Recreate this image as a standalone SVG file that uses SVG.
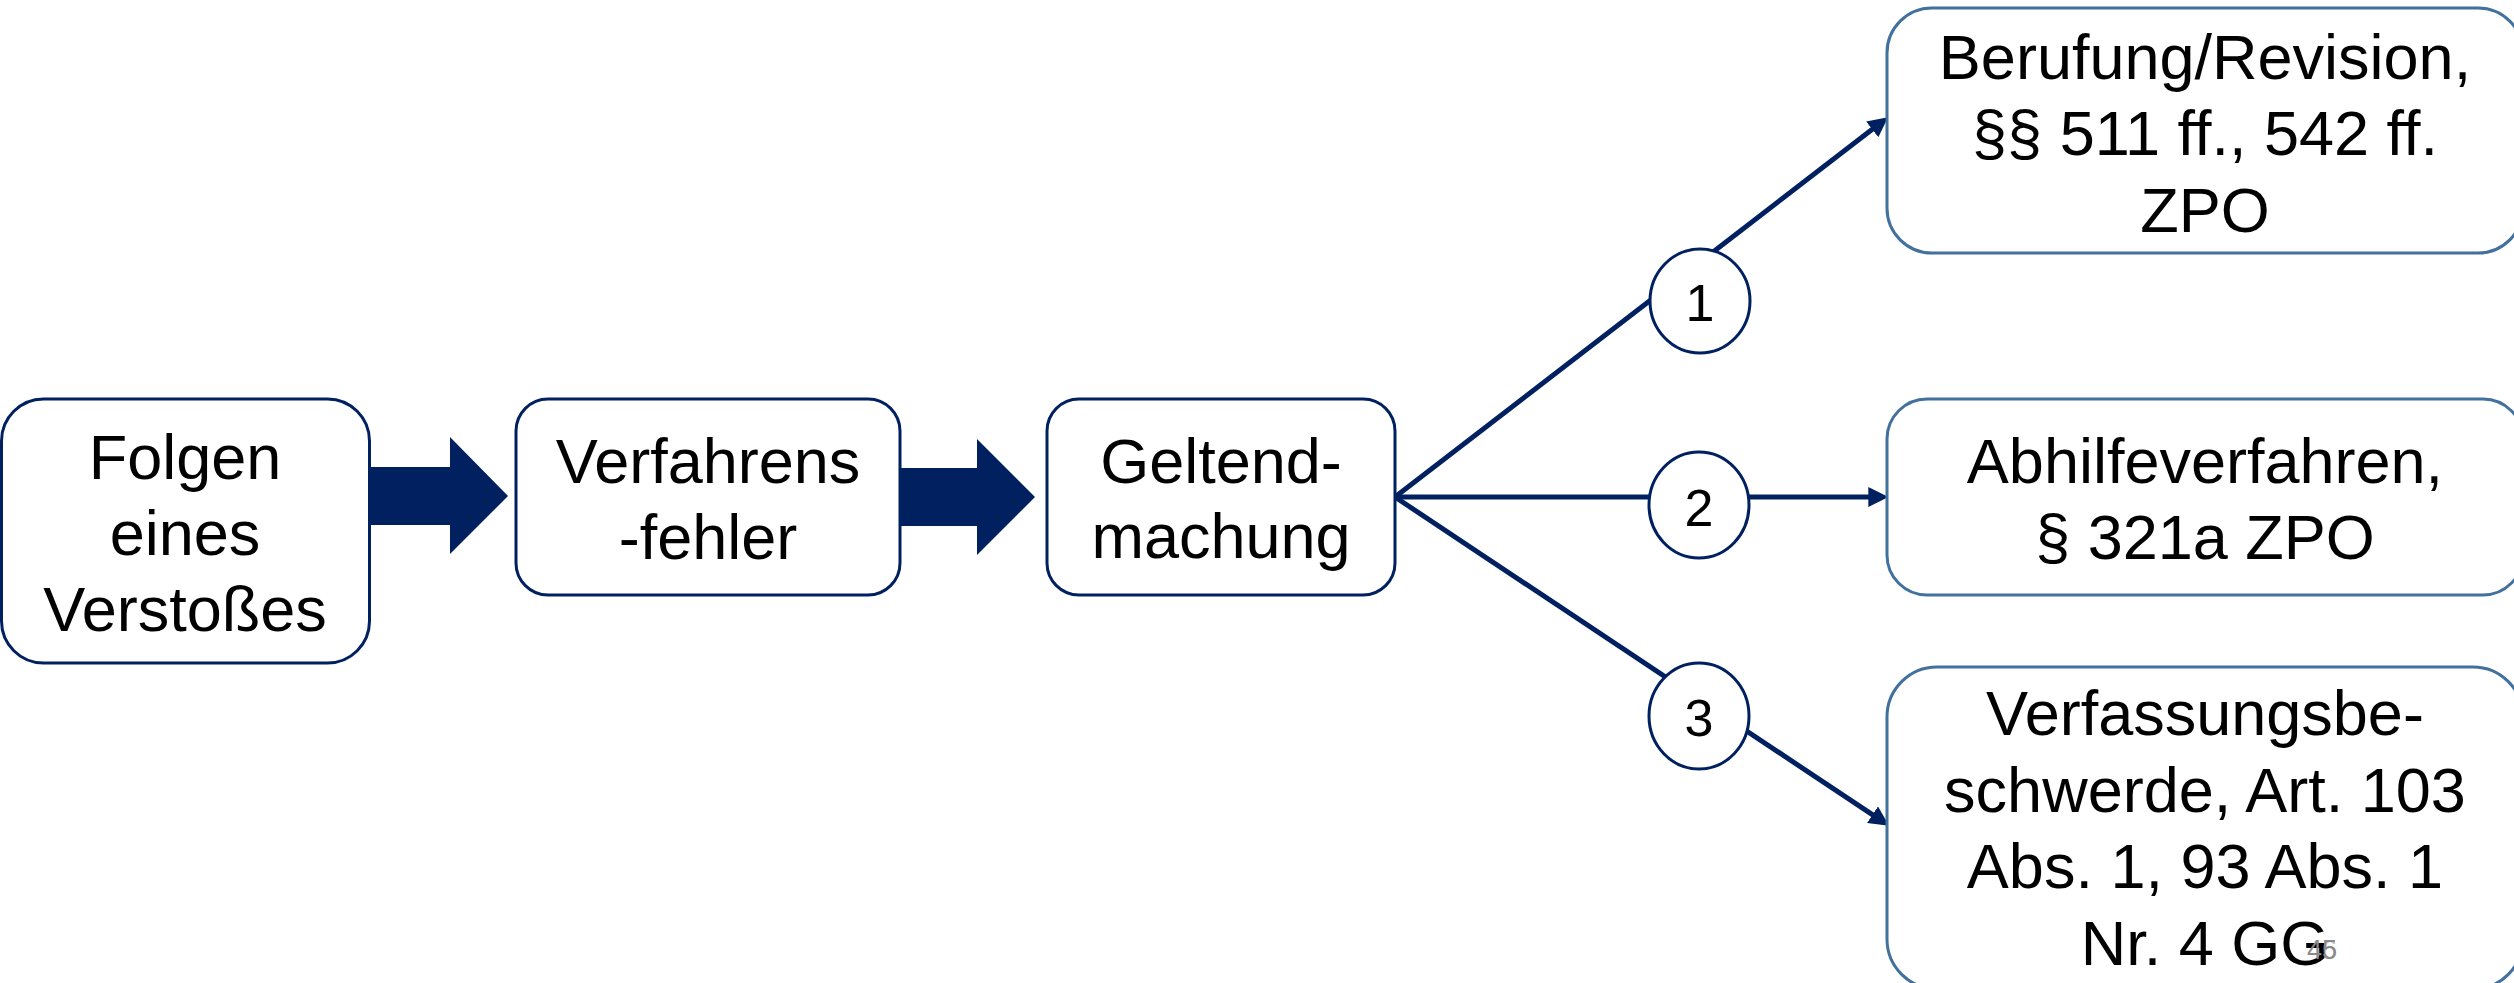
<svg xmlns="http://www.w3.org/2000/svg" width="2514" height="983" viewBox="0 0 2514 983">
<style>
.bl{fill:#fff;stroke:#002060;stroke-width:3}
.br{fill:#fff;stroke:#41719C;stroke-width:3}
.t{font-family:"Liberation Sans",Arial,sans-serif;font-size:63px;fill:#000;text-anchor:middle}
.n{font-family:"Liberation Sans",Arial,sans-serif;font-size:52px;fill:#000;text-anchor:middle}
.c{fill:#fff;stroke:#002060;stroke-width:3}
.blk{fill:#002060}
.ln{stroke:#002060;stroke-width:5;fill:none}
.pg{font-family:"Liberation Sans",Arial,sans-serif;font-size:27px;fill:#8a8a8a}
</style>
<defs>
<marker id="ah" markerUnits="userSpaceOnUse" markerWidth="20" markerHeight="20" viewBox="0 0 18 18" refX="6" refY="9" orient="auto">
<path d="M0,0 L18,9 L0,18 z" fill="#002060"/>
</marker>
</defs>
<rect width="2514" height="983" fill="#fff"/>
<g id="connectors">
<polygon class="blk" points="370,467 450,467 450,437 508,496 450,554 450,525 370,525"/>
<polygon class="blk" points="897,468 977,468 977,439 1035,497 977,555 977,526 897,526"/>
<line class="ln" x1="1395" y1="497" x2="1877.5" y2="125.3" marker-end="url(#ah)"/>
<line class="ln" x1="1395" y1="497" x2="1875" y2="497" marker-end="url(#ah)"/>
<line class="ln" x1="1395" y1="497" x2="1878" y2="818.4" marker-end="url(#ah)"/>
</g>
<g id="n-folgen">
<rect class="bl" x="1.5" y="399" width="368" height="264" rx="42"/>
<text class="t" x="185" y="479">Folgen</text>
<text class="t" x="185" y="555">eines</text>
<text class="t" x="185" y="631">Verstoßes</text>
</g>
<g id="n-verfahren">
<rect class="bl" x="516" y="399" width="384" height="196" rx="32"/>
<text class="t" x="708" y="483">Verfahrens</text>
<text class="t" x="708" y="559">-fehler</text>
</g>
<g id="n-geltend">
<rect class="bl" x="1047" y="399" width="348" height="196" rx="32"/>
<text class="t" x="1221" y="483">Geltend-</text>
<text class="t" x="1221" y="558">machung</text>
</g>
<g id="n-c1">
<ellipse class="c" cx="1700" cy="301" rx="50" ry="52"/>
<text class="n" x="1700" y="321">1</text>
</g>
<g id="n-c2">
<ellipse class="c" cx="1699" cy="505" rx="50" ry="53"/>
<text class="n" x="1699" y="526">2</text>
</g>
<g id="n-c3">
<ellipse class="c" cx="1699" cy="716" rx="50" ry="53"/>
<text class="n" x="1699" y="736">3</text>
</g>
<g id="n-berufung">
<rect class="br" x="1887" y="8" width="636" height="245" rx="45"/>
<text class="t" x="2205" y="79">Berufung/Revision,</text>
<text class="t" x="2205" y="155">§§ 511 ff., 542 ff.</text>
<text class="t" x="2205" y="232">ZPO</text>
</g>
<g id="n-abhilfe">
<rect class="br" x="1887" y="399" width="636" height="196" rx="40"/>
<text class="t" x="2205" y="483">Abhilfeverfahren,</text>
<text class="t" x="2205" y="559">§ 321a ZPO</text>
</g>
<g id="n-verfassung">
<rect class="br" x="1887" y="667" width="636" height="322" rx="50"/>
<text class="t" x="2205" y="735">Verfassungsbe-</text>
<text class="t" x="2205" y="812">schwerde, Art. 103</text>
<text class="t" x="2205" y="888">Abs. 1, 93 Abs. 1</text>
<text class="t" x="2205" y="965">Nr. 4 GG</text>
</g>
<text class="pg" x="2307" y="959">45<tspan dx="-15" fill-opacity="0.6">6</tspan></text>
</svg>
